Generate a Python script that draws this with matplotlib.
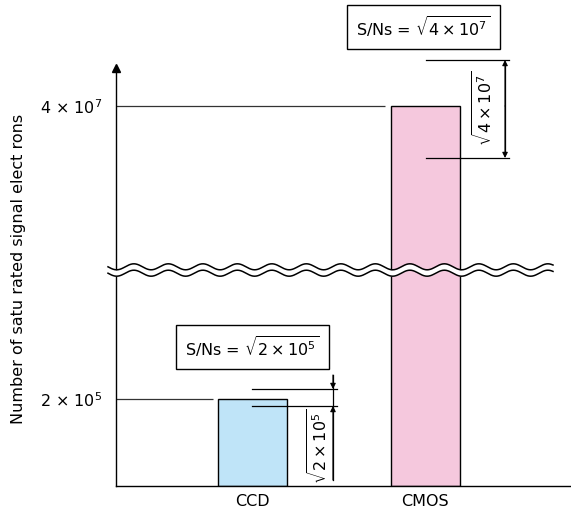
import numpy as np
import matplotlib
matplotlib.use("Agg")
import matplotlib.pyplot as plt
from matplotlib.scale import FuncScale

# data
sensors = ["CCD", "CMOS"]
electrons = [2e5, 4e7]
tick_labels = ["2 × 10$^5$", "4 × 10$^7$"]
snr_text = [r"S/Ns = $\sqrt{2\times10^5}$", r"S/Ns = $\sqrt{4\times10^7}$"]
noise_text = [r"$\sqrt{2\times10^5}$", r"$\sqrt{4\times10^7}$"]
colors = ["#bfe4f8", "#f5c8dd"]

W, H = 571, 512
plt.rcParams["font.family"] = ["DejaVu Sans"]
plt.rcParams["font.size"] = 11.5

# broken value axis: knots (value -> height in axis units)
knot_v = [0, 4.92e5, 3.6e7, 4.0938e7]
knot_p = [0, 214, 218, 418]


def fwd(v):
    return np.interp(v, knot_v, knot_p)


def inv(p):
    return np.interp(p, knot_p, knot_v)


fig = plt.figure(figsize=(W / 100, H / 100), dpi=100)
ax = fig.add_axes([116 / W, 26 / H, 455 / W, 418 / H])
ax.set_yscale(FuncScale(ax, (fwd, inv)))
ax.set_ylim(0, knot_v[-1])
ax.set_xlim(-0.791, 1.846)

x = np.arange(len(sensors))
ax.bar(x, electrons, width=0.4, color=colors, edgecolor="black", linewidth=1, zorder=2)

for s in ["top", "right"]:
    ax.spines[s].set_visible(False)
for s in ["left", "bottom"]:
    ax.spines[s].set_linewidth(1)
ax.set_xticks(x, sensors)
ax.set_yticks(electrons, tick_labels)
ax.tick_params(axis="both", length=0)
ax.tick_params(axis="y", pad=10)
ax.tick_params(axis="x", pad=6)
ax.set_ylabel("Number of satu rated signal elect rons")
ax.yaxis.set_label_coords(-0.198, 0.52)
ax.plot(0, 1, marker="^", ms=6, color="black", transform=ax.transAxes, clip_on=False)

# guide lines from the y axis to the bars
for xi, v in zip(x, electrons):
    ax.hlines(v, -0.791, xi - 0.23, color="#333333", lw=0.9, zorder=1)

# overlay in pixel units for annotations
ov = fig.add_axes([0, 0, 1, 1], zorder=5)
ov.set_xlim(0, W)
ov.set_ylim(H, 0)
ov.set_axis_off()
ov.patch.set_visible(False)


def to_px(xv, yv):
    X, Y = ax.transData.transform((xv, yv))
    return X, H - Y


def arrow(xp, y0, y1):
    ov.annotate("", xy=(xp, y1), xytext=(xp, y0),
                arrowprops=dict(arrowstyle="-|>", color="black", lw=0.8,
                                mutation_scale=8, shrinkA=0, shrinkB=0))


line_kw = dict(color="black", lw=0.9)
box_kw = dict(boxstyle="square,pad=0.6", fc="white", ec="black", lw=1)

# CCD annotation
cx, ty = to_px(0, electrons[0])
_, by = to_px(0, 0)
ov.plot([cx, cx + 85], [ty - 10, ty - 10], **line_kw)
ov.plot([cx, cx + 85], [ty + 7, ty + 7], **line_kw)
ov.plot([cx + 80.5, cx + 80.5], [ty - 24, by - 6], **line_kw)
arrow(cx + 80.5, ty - 24, ty - 10)
arrow(cx + 80.5, by - 6, ty + 7)
ov.text(cx + 66, (ty + 16 + by - 8) / 2, noise_text[0], rotation=90,
        ha="center", va="center")
ov.text(cx, ty - 52, snr_text[0], ha="center", va="center", bbox=box_kw)

# CMOS annotation
cx, ty = to_px(1, electrons[1])
ov.plot([cx + 1, cx + 84], [ty - 46, ty - 46], **line_kw)
ov.plot([cx + 1, cx + 84], [ty + 52, ty + 52], **line_kw)
ov.plot([cx + 80, cx + 80], [ty - 40, ty + 46], **line_kw)
arrow(cx + 80, ty, ty - 46)
arrow(cx + 80, ty, ty + 52)
ov.text(cx + 58, ty + 3, noise_text[1], rotation=90, ha="center", va="center")
ov.text(cx - 1.5, ty - 79, snr_text[1], ha="center", va="center", bbox=box_kw)

# axis break
_, yb = to_px(0, (knot_v[1] + knot_v[2]) / 2)
xs = np.linspace(108, 553, 800)
wave = 3.0 * np.sin(2 * np.pi * (xs - 108) / 34.5)
upper = yb - 3.2 + wave
lower = yb + 3.2 + wave
ov.fill_between(xs, upper, lower, color="white", lw=0)
ov.plot(xs, upper, color="black", lw=1.1)
ov.plot(xs, lower, color="black", lw=1.1)

fig.savefig("out.png", dpi=100)
